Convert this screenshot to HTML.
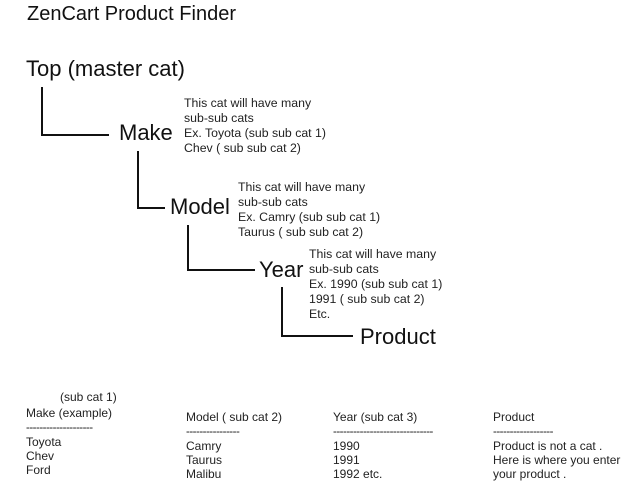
<!DOCTYPE html>
<html><head><meta charset="utf-8"><style>
body{margin:0;width:640px;height:495px;background:#fff;position:relative;overflow:hidden;font-family:"Liberation Sans",sans-serif;color:#111}
.a{position:absolute;white-space:nowrap}
.s{font-size:12.3px;line-height:15px;color:#222}
.b{font-size:22px;line-height:26px}
.l{position:absolute;background:#111}
.t{font-size:12px;line-height:14px;color:#222}
.d{font-size:11.5px;line-height:14px;letter-spacing:-0.5px}
</style></head><body>
<div class="a" style="left:27px;top:2px;font-size:20px;line-height:24px">ZenCart Product Finder</div>
<div class="a b" style="left:26px;top:56px">Top (master cat)</div>

<div class="l" style="left:41px;top:87px;width:2px;height:49px"></div>
<div class="l" style="left:41px;top:134px;width:68px;height:2px"></div>
<div class="a b" style="left:119px;top:120px">Make</div>
<div class="a s" style="left:184px;top:96px">This cat will have many<br>sub-sub cats<br>Ex. Toyota (sub sub cat 1)<br>Chev ( sub sub cat 2)</div>

<div class="l" style="left:137px;top:151px;width:2px;height:58px"></div>
<div class="l" style="left:137px;top:207px;width:28px;height:2px"></div>
<div class="a b" style="left:170px;top:194px">Model</div>
<div class="a s" style="left:238px;top:180px">This cat will have many<br>sub-sub cats<br>Ex. Camry (sub sub cat 1)<br>Taurus ( sub sub cat 2)</div>

<div class="l" style="left:187px;top:225px;width:2px;height:46px"></div>
<div class="l" style="left:187px;top:269px;width:68px;height:2px"></div>
<div class="a b" style="left:259px;top:257px">Year</div>
<div class="a s" style="left:309px;top:247px">This cat will have many<br>sub-sub cats<br>Ex. 1990 (sub sub cat 1)<br>1991 ( sub sub cat 2)<br>Etc.</div>

<div class="l" style="left:281px;top:287px;width:2px;height:50px"></div>
<div class="l" style="left:281px;top:335px;width:72px;height:2px"></div>
<div class="a b" style="left:360px;top:324px">Product</div>

<div class="a t" style="left:60px;top:390px">(sub cat 1)</div>
<div class="a t" style="left:26px;top:406px">Make (example)<br><span class="d">--------------------</span><br>Toyota<br>Chev<br>Ford</div>
<div class="a t" style="left:186px;top:410px">Model ( sub cat 2)<br><span class="d">----------------</span><br>Camry<br>Taurus<br>Malibu</div>
<div class="a t" style="left:333px;top:410px">Year (sub cat 3)<br><span class="d">------------------------------</span><br>1990<br>1991<br>1992 etc.</div>
<div class="a t" style="left:493px;top:410px">Product<br><span class="d">------------------</span><br>Product is not a cat .<br>Here is where you enter<br>your product .</div>
</body></html>
